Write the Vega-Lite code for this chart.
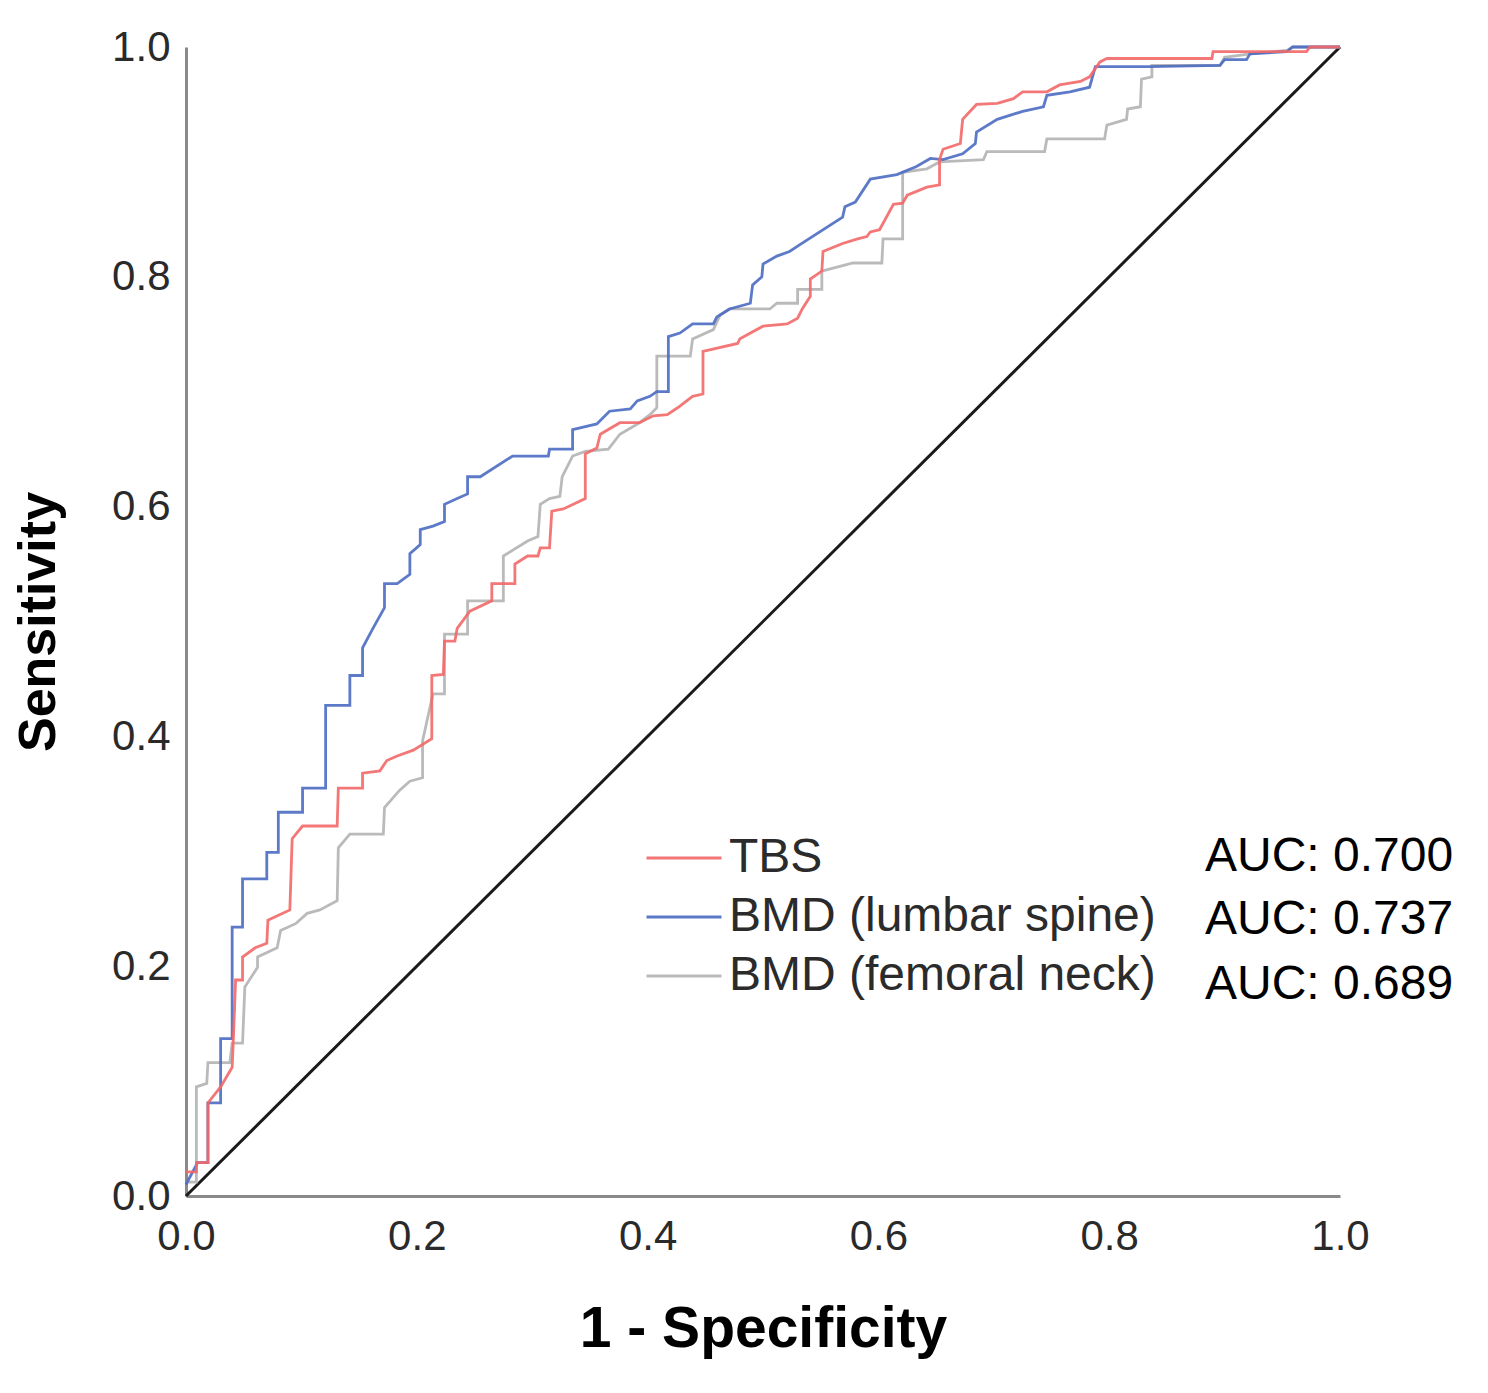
{
  "$schema": "https://vega.github.io/schema/vega-lite/v6.json",
  "width": 1154,
  "height": 1149,
  "autosize": {"type": "none"},
  "padding": {"left": 186, "top": 47, "right": 148, "bottom": 197},
  "background": "white",
  "config": {
    "view": {"stroke": null},
    "font": "Liberation Sans",
    "axis": {
      "grid": false,
      "ticks": false,
      "domainColor": "#8a8a8a",
      "domainWidth": 3,
      "labelFont": "Liberation Sans",
      "labelFontSize": 42,
      "labelColor": "#2a2a2a",
      "labelFlush": false,
      "labelOverlap": false,
      "labelBound": false,
      "titleFont": "Liberation Sans",
      "titleFontWeight": "bold",
      "titleColor": "#000000"
    }
  },
  "datasets": {
    "roc": [
      {"s":"BMD (femoral neck)","i":0,"x":0,"y":0.012},
      {"s":"BMD (femoral neck)","i":1,"x":0.009,"y":0.012},
      {"s":"BMD (femoral neck)","i":2,"x":0.009,"y":0.095},
      {"s":"BMD (femoral neck)","i":3,"x":0.018,"y":0.098},
      {"s":"BMD (femoral neck)","i":4,"x":0.019,"y":0.116},
      {"s":"BMD (femoral neck)","i":5,"x":0.038,"y":0.116},
      {"s":"BMD (femoral neck)","i":6,"x":0.040,"y":0.133},
      {"s":"BMD (femoral neck)","i":7,"x":0.049,"y":0.133},
      {"s":"BMD (femoral neck)","i":8,"x":0.051,"y":0.182},
      {"s":"BMD (femoral neck)","i":9,"x":0.062,"y":0.199},
      {"s":"BMD (femoral neck)","i":10,"x":0.062,"y":0.208},
      {"s":"BMD (femoral neck)","i":11,"x":0.079,"y":0.216},
      {"s":"BMD (femoral neck)","i":12,"x":0.082,"y":0.231},
      {"s":"BMD (femoral neck)","i":13,"x":0.095,"y":0.237},
      {"s":"BMD (femoral neck)","i":14,"x":0.105,"y":0.246},
      {"s":"BMD (femoral neck)","i":15,"x":0.116,"y":0.249},
      {"s":"BMD (femoral neck)","i":16,"x":0.131,"y":0.257},
      {"s":"BMD (femoral neck)","i":17,"x":0.132,"y":0.303},
      {"s":"BMD (femoral neck)","i":18,"x":0.142,"y":0.315},
      {"s":"BMD (femoral neck)","i":19,"x":0.171,"y":0.315},
      {"s":"BMD (femoral neck)","i":20,"x":0.172,"y":0.338},
      {"s":"BMD (femoral neck)","i":21,"x":0.185,"y":0.353},
      {"s":"BMD (femoral neck)","i":22,"x":0.194,"y":0.361},
      {"s":"BMD (femoral neck)","i":23,"x":0.205,"y":0.364},
      {"s":"BMD (femoral neck)","i":24,"x":0.205,"y":0.396},
      {"s":"BMD (femoral neck)","i":25,"x":0.214,"y":0.437},
      {"s":"BMD (femoral neck)","i":26,"x":0.224,"y":0.437},
      {"s":"BMD (femoral neck)","i":27,"x":0.224,"y":0.489},
      {"s":"BMD (femoral neck)","i":28,"x":0.244,"y":0.489},
      {"s":"BMD (femoral neck)","i":29,"x":0.244,"y":0.518},
      {"s":"BMD (femoral neck)","i":30,"x":0.275,"y":0.518},
      {"s":"BMD (femoral neck)","i":31,"x":0.275,"y":0.557},
      {"s":"BMD (femoral neck)","i":32,"x":0.296,"y":0.570},
      {"s":"BMD (femoral neck)","i":33,"x":0.305,"y":0.574},
      {"s":"BMD (femoral neck)","i":34,"x":0.307,"y":0.602},
      {"s":"BMD (femoral neck)","i":35,"x":0.315,"y":0.607},
      {"s":"BMD (femoral neck)","i":36,"x":0.324,"y":0.609},
      {"s":"BMD (femoral neck)","i":37,"x":0.326,"y":0.626},
      {"s":"BMD (femoral neck)","i":38,"x":0.335,"y":0.644},
      {"s":"BMD (femoral neck)","i":39,"x":0.346,"y":0.648},
      {"s":"BMD (femoral neck)","i":40,"x":0.366,"y":0.650},
      {"s":"BMD (femoral neck)","i":41,"x":0.376,"y":0.663},
      {"s":"BMD (femoral neck)","i":42,"x":0.393,"y":0.673},
      {"s":"BMD (femoral neck)","i":43,"x":0.402,"y":0.680},
      {"s":"BMD (femoral neck)","i":44,"x":0.408,"y":0.686},
      {"s":"BMD (femoral neck)","i":45,"x":0.408,"y":0.731},
      {"s":"BMD (femoral neck)","i":46,"x":0.437,"y":0.731},
      {"s":"BMD (femoral neck)","i":47,"x":0.439,"y":0.746},
      {"s":"BMD (femoral neck)","i":48,"x":0.457,"y":0.754},
      {"s":"BMD (femoral neck)","i":49,"x":0.463,"y":0.767},
      {"s":"BMD (femoral neck)","i":50,"x":0.471,"y":0.772},
      {"s":"BMD (femoral neck)","i":51,"x":0.506,"y":0.772},
      {"s":"BMD (femoral neck)","i":52,"x":0.512,"y":0.777},
      {"s":"BMD (femoral neck)","i":53,"x":0.530,"y":0.777},
      {"s":"BMD (femoral neck)","i":54,"x":0.530,"y":0.789},
      {"s":"BMD (femoral neck)","i":55,"x":0.551,"y":0.789},
      {"s":"BMD (femoral neck)","i":56,"x":0.551,"y":0.805},
      {"s":"BMD (femoral neck)","i":57,"x":0.578,"y":0.812},
      {"s":"BMD (femoral neck)","i":58,"x":0.603,"y":0.812},
      {"s":"BMD (femoral neck)","i":59,"x":0.604,"y":0.833},
      {"s":"BMD (femoral neck)","i":60,"x":0.621,"y":0.833},
      {"s":"BMD (femoral neck)","i":61,"x":0.621,"y":0.891},
      {"s":"BMD (femoral neck)","i":62,"x":0.642,"y":0.894},
      {"s":"BMD (femoral neck)","i":63,"x":0.653,"y":0.900},
      {"s":"BMD (femoral neck)","i":64,"x":0.691,"y":0.902},
      {"s":"BMD (femoral neck)","i":65,"x":0.694,"y":0.909},
      {"s":"BMD (femoral neck)","i":66,"x":0.744,"y":0.909},
      {"s":"BMD (femoral neck)","i":67,"x":0.746,"y":0.920},
      {"s":"BMD (femoral neck)","i":68,"x":0.796,"y":0.920},
      {"s":"BMD (femoral neck)","i":69,"x":0.798,"y":0.932},
      {"s":"BMD (femoral neck)","i":70,"x":0.815,"y":0.937},
      {"s":"BMD (femoral neck)","i":71,"x":0.816,"y":0.946},
      {"s":"BMD (femoral neck)","i":72,"x":0.827,"y":0.948},
      {"s":"BMD (femoral neck)","i":73,"x":0.828,"y":0.972},
      {"s":"BMD (femoral neck)","i":74,"x":0.837,"y":0.974},
      {"s":"BMD (femoral neck)","i":75,"x":0.837,"y":0.984},
      {"s":"BMD (femoral neck)","i":76,"x":0.896,"y":0.984},
      {"s":"BMD (femoral neck)","i":77,"x":0.900,"y":0.991},
      {"s":"BMD (femoral neck)","i":78,"x":0.922,"y":0.994},
      {"s":"BMD (femoral neck)","i":79,"x":0.954,"y":0.997},
      {"s":"BMD (femoral neck)","i":80,"x":0.959,"y":1.0},
      {"s":"BMD (femoral neck)","i":81,"x":1.0,"y":1.0},

      {"s":"BMD (lumbar spine)","i":0,"x":0,"y":0.010},
      {"s":"BMD (lumbar spine)","i":1,"x":0.010,"y":0.029},
      {"s":"BMD (lumbar spine)","i":2,"x":0.019,"y":0.029},
      {"s":"BMD (lumbar spine)","i":3,"x":0.019,"y":0.081},
      {"s":"BMD (lumbar spine)","i":4,"x":0.030,"y":0.081},
      {"s":"BMD (lumbar spine)","i":5,"x":0.030,"y":0.137},
      {"s":"BMD (lumbar spine)","i":6,"x":0.040,"y":0.137},
      {"s":"BMD (lumbar spine)","i":7,"x":0.040,"y":0.234},
      {"s":"BMD (lumbar spine)","i":8,"x":0.049,"y":0.234},
      {"s":"BMD (lumbar spine)","i":9,"x":0.049,"y":0.276},
      {"s":"BMD (lumbar spine)","i":10,"x":0.070,"y":0.276},
      {"s":"BMD (lumbar spine)","i":11,"x":0.070,"y":0.299},
      {"s":"BMD (lumbar spine)","i":12,"x":0.080,"y":0.299},
      {"s":"BMD (lumbar spine)","i":13,"x":0.080,"y":0.334},
      {"s":"BMD (lumbar spine)","i":14,"x":0.101,"y":0.334},
      {"s":"BMD (lumbar spine)","i":15,"x":0.101,"y":0.355},
      {"s":"BMD (lumbar spine)","i":16,"x":0.121,"y":0.355},
      {"s":"BMD (lumbar spine)","i":17,"x":0.121,"y":0.427},
      {"s":"BMD (lumbar spine)","i":18,"x":0.142,"y":0.427},
      {"s":"BMD (lumbar spine)","i":19,"x":0.142,"y":0.453},
      {"s":"BMD (lumbar spine)","i":20,"x":0.153,"y":0.453},
      {"s":"BMD (lumbar spine)","i":21,"x":0.153,"y":0.477},
      {"s":"BMD (lumbar spine)","i":22,"x":0.162,"y":0.494},
      {"s":"BMD (lumbar spine)","i":23,"x":0.172,"y":0.512},
      {"s":"BMD (lumbar spine)","i":24,"x":0.172,"y":0.533},
      {"s":"BMD (lumbar spine)","i":25,"x":0.183,"y":0.533},
      {"s":"BMD (lumbar spine)","i":26,"x":0.194,"y":0.541},
      {"s":"BMD (lumbar spine)","i":27,"x":0.194,"y":0.559},
      {"s":"BMD (lumbar spine)","i":28,"x":0.203,"y":0.567},
      {"s":"BMD (lumbar spine)","i":29,"x":0.203,"y":0.580},
      {"s":"BMD (lumbar spine)","i":30,"x":0.214,"y":0.583},
      {"s":"BMD (lumbar spine)","i":31,"x":0.224,"y":0.587},
      {"s":"BMD (lumbar spine)","i":32,"x":0.224,"y":0.602},
      {"s":"BMD (lumbar spine)","i":33,"x":0.235,"y":0.607},
      {"s":"BMD (lumbar spine)","i":34,"x":0.244,"y":0.611},
      {"s":"BMD (lumbar spine)","i":35,"x":0.244,"y":0.626},
      {"s":"BMD (lumbar spine)","i":36,"x":0.255,"y":0.626},
      {"s":"BMD (lumbar spine)","i":37,"x":0.283,"y":0.644},
      {"s":"BMD (lumbar spine)","i":38,"x":0.314,"y":0.644},
      {"s":"BMD (lumbar spine)","i":39,"x":0.315,"y":0.650},
      {"s":"BMD (lumbar spine)","i":40,"x":0.335,"y":0.650},
      {"s":"BMD (lumbar spine)","i":41,"x":0.335,"y":0.667},
      {"s":"BMD (lumbar spine)","i":42,"x":0.356,"y":0.672},
      {"s":"BMD (lumbar spine)","i":43,"x":0.367,"y":0.683},
      {"s":"BMD (lumbar spine)","i":44,"x":0.385,"y":0.685},
      {"s":"BMD (lumbar spine)","i":45,"x":0.391,"y":0.692},
      {"s":"BMD (lumbar spine)","i":46,"x":0.402,"y":0.696},
      {"s":"BMD (lumbar spine)","i":47,"x":0.408,"y":0.700},
      {"s":"BMD (lumbar spine)","i":48,"x":0.418,"y":0.700},
      {"s":"BMD (lumbar spine)","i":49,"x":0.418,"y":0.748},
      {"s":"BMD (lumbar spine)","i":50,"x":0.428,"y":0.751},
      {"s":"BMD (lumbar spine)","i":51,"x":0.439,"y":0.759},
      {"s":"BMD (lumbar spine)","i":52,"x":0.457,"y":0.759},
      {"s":"BMD (lumbar spine)","i":53,"x":0.460,"y":0.765},
      {"s":"BMD (lumbar spine)","i":54,"x":0.471,"y":0.772},
      {"s":"BMD (lumbar spine)","i":55,"x":0.489,"y":0.777},
      {"s":"BMD (lumbar spine)","i":56,"x":0.491,"y":0.793},
      {"s":"BMD (lumbar spine)","i":57,"x":0.499,"y":0.800},
      {"s":"BMD (lumbar spine)","i":58,"x":0.500,"y":0.811},
      {"s":"BMD (lumbar spine)","i":59,"x":0.512,"y":0.818},
      {"s":"BMD (lumbar spine)","i":60,"x":0.523,"y":0.822},
      {"s":"BMD (lumbar spine)","i":61,"x":0.532,"y":0.828},
      {"s":"BMD (lumbar spine)","i":62,"x":0.569,"y":0.852},
      {"s":"BMD (lumbar spine)","i":63,"x":0.571,"y":0.861},
      {"s":"BMD (lumbar spine)","i":64,"x":0.580,"y":0.865},
      {"s":"BMD (lumbar spine)","i":65,"x":0.593,"y":0.885},
      {"s":"BMD (lumbar spine)","i":66,"x":0.616,"y":0.889},
      {"s":"BMD (lumbar spine)","i":67,"x":0.633,"y":0.896},
      {"s":"BMD (lumbar spine)","i":68,"x":0.645,"y":0.903},
      {"s":"BMD (lumbar spine)","i":69,"x":0.656,"y":0.902},
      {"s":"BMD (lumbar spine)","i":70,"x":0.673,"y":0.907},
      {"s":"BMD (lumbar spine)","i":71,"x":0.684,"y":0.916},
      {"s":"BMD (lumbar spine)","i":72,"x":0.685,"y":0.926},
      {"s":"BMD (lumbar spine)","i":73,"x":0.703,"y":0.937},
      {"s":"BMD (lumbar spine)","i":74,"x":0.725,"y":0.944},
      {"s":"BMD (lumbar spine)","i":75,"x":0.743,"y":0.948},
      {"s":"BMD (lumbar spine)","i":76,"x":0.746,"y":0.958},
      {"s":"BMD (lumbar spine)","i":77,"x":0.766,"y":0.961},
      {"s":"BMD (lumbar spine)","i":78,"x":0.783,"y":0.965},
      {"s":"BMD (lumbar spine)","i":79,"x":0.788,"y":0.983},
      {"s":"BMD (lumbar spine)","i":80,"x":0.835,"y":0.983},
      {"s":"BMD (lumbar spine)","i":81,"x":0.896,"y":0.984},
      {"s":"BMD (lumbar spine)","i":82,"x":0.900,"y":0.989},
      {"s":"BMD (lumbar spine)","i":83,"x":0.919,"y":0.989},
      {"s":"BMD (lumbar spine)","i":84,"x":0.922,"y":0.994},
      {"s":"BMD (lumbar spine)","i":85,"x":0.954,"y":0.996},
      {"s":"BMD (lumbar spine)","i":86,"x":0.959,"y":1.0},
      {"s":"BMD (lumbar spine)","i":87,"x":1.0,"y":1.0},

      {"s":"TBS","i":0,"x":0,"y":0.021},
      {"s":"TBS","i":1,"x":0.009,"y":0.021},
      {"s":"TBS","i":2,"x":0.009,"y":0.029},
      {"s":"TBS","i":3,"x":0.019,"y":0.029},
      {"s":"TBS","i":4,"x":0.019,"y":0.081},
      {"s":"TBS","i":5,"x":0.030,"y":0.095},
      {"s":"TBS","i":6,"x":0.040,"y":0.112},
      {"s":"TBS","i":7,"x":0.041,"y":0.136},
      {"s":"TBS","i":8,"x":0.043,"y":0.188},
      {"s":"TBS","i":9,"x":0.049,"y":0.188},
      {"s":"TBS","i":10,"x":0.049,"y":0.208},
      {"s":"TBS","i":11,"x":0.060,"y":0.216},
      {"s":"TBS","i":12,"x":0.070,"y":0.220},
      {"s":"TBS","i":13,"x":0.071,"y":0.240},
      {"s":"TBS","i":14,"x":0.090,"y":0.249},
      {"s":"TBS","i":15,"x":0.092,"y":0.311},
      {"s":"TBS","i":16,"x":0.101,"y":0.322},
      {"s":"TBS","i":17,"x":0.131,"y":0.322},
      {"s":"TBS","i":18,"x":0.132,"y":0.355},
      {"s":"TBS","i":19,"x":0.153,"y":0.355},
      {"s":"TBS","i":20,"x":0.153,"y":0.368},
      {"s":"TBS","i":21,"x":0.168,"y":0.370},
      {"s":"TBS","i":22,"x":0.174,"y":0.379},
      {"s":"TBS","i":23,"x":0.183,"y":0.383},
      {"s":"TBS","i":24,"x":0.197,"y":0.388},
      {"s":"TBS","i":25,"x":0.213,"y":0.398},
      {"s":"TBS","i":26,"x":0.213,"y":0.453},
      {"s":"TBS","i":27,"x":0.223,"y":0.454},
      {"s":"TBS","i":28,"x":0.224,"y":0.483},
      {"s":"TBS","i":29,"x":0.233,"y":0.483},
      {"s":"TBS","i":30,"x":0.235,"y":0.494},
      {"s":"TBS","i":31,"x":0.246,"y":0.509},
      {"s":"TBS","i":32,"x":0.265,"y":0.518},
      {"s":"TBS","i":33,"x":0.265,"y":0.533},
      {"s":"TBS","i":34,"x":0.285,"y":0.533},
      {"s":"TBS","i":35,"x":0.285,"y":0.550},
      {"s":"TBS","i":36,"x":0.296,"y":0.557},
      {"s":"TBS","i":37,"x":0.305,"y":0.557},
      {"s":"TBS","i":38,"x":0.307,"y":0.564},
      {"s":"TBS","i":39,"x":0.315,"y":0.564},
      {"s":"TBS","i":40,"x":0.317,"y":0.596},
      {"s":"TBS","i":41,"x":0.327,"y":0.598},
      {"s":"TBS","i":42,"x":0.346,"y":0.607},
      {"s":"TBS","i":43,"x":0.346,"y":0.646},
      {"s":"TBS","i":44,"x":0.356,"y":0.651},
      {"s":"TBS","i":45,"x":0.359,"y":0.663},
      {"s":"TBS","i":46,"x":0.376,"y":0.673},
      {"s":"TBS","i":47,"x":0.393,"y":0.673},
      {"s":"TBS","i":48,"x":0.405,"y":0.679},
      {"s":"TBS","i":49,"x":0.417,"y":0.680},
      {"s":"TBS","i":50,"x":0.426,"y":0.686},
      {"s":"TBS","i":51,"x":0.439,"y":0.696},
      {"s":"TBS","i":52,"x":0.448,"y":0.698},
      {"s":"TBS","i":53,"x":0.448,"y":0.735},
      {"s":"TBS","i":54,"x":0.478,"y":0.742},
      {"s":"TBS","i":55,"x":0.480,"y":0.746},
      {"s":"TBS","i":56,"x":0.500,"y":0.757},
      {"s":"TBS","i":57,"x":0.521,"y":0.759},
      {"s":"TBS","i":58,"x":0.530,"y":0.764},
      {"s":"TBS","i":59,"x":0.534,"y":0.772},
      {"s":"TBS","i":60,"x":0.541,"y":0.783},
      {"s":"TBS","i":61,"x":0.541,"y":0.798},
      {"s":"TBS","i":62,"x":0.551,"y":0.805},
      {"s":"TBS","i":63,"x":0.552,"y":0.822},
      {"s":"TBS","i":64,"x":0.569,"y":0.829},
      {"s":"TBS","i":65,"x":0.582,"y":0.833},
      {"s":"TBS","i":66,"x":0.590,"y":0.835},
      {"s":"TBS","i":67,"x":0.593,"y":0.839},
      {"s":"TBS","i":68,"x":0.601,"y":0.841},
      {"s":"TBS","i":69,"x":0.613,"y":0.863},
      {"s":"TBS","i":70,"x":0.621,"y":0.864},
      {"s":"TBS","i":71,"x":0.625,"y":0.871},
      {"s":"TBS","i":72,"x":0.642,"y":0.878},
      {"s":"TBS","i":73,"x":0.653,"y":0.880},
      {"s":"TBS","i":74,"x":0.653,"y":0.902},
      {"s":"TBS","i":75,"x":0.656,"y":0.911},
      {"s":"TBS","i":76,"x":0.671,"y":0.916},
      {"s":"TBS","i":77,"x":0.673,"y":0.937},
      {"s":"TBS","i":78,"x":0.685,"y":0.950},
      {"s":"TBS","i":79,"x":0.703,"y":0.951},
      {"s":"TBS","i":80,"x":0.717,"y":0.955},
      {"s":"TBS","i":81,"x":0.725,"y":0.961},
      {"s":"TBS","i":82,"x":0.746,"y":0.961},
      {"s":"TBS","i":83,"x":0.757,"y":0.967},
      {"s":"TBS","i":84,"x":0.775,"y":0.970},
      {"s":"TBS","i":85,"x":0.783,"y":0.974},
      {"s":"TBS","i":86,"x":0.792,"y":0.987},
      {"s":"TBS","i":87,"x":0.798,"y":0.990},
      {"s":"TBS","i":88,"x":0.889,"y":0.990},
      {"s":"TBS","i":89,"x":0.890,"y":0.996},
      {"s":"TBS","i":90,"x":0.971,"y":0.996},
      {"s":"TBS","i":91,"x":0.974,"y":1.0},
      {"s":"TBS","i":92,"x":1.0,"y":1.0}
    ],
    "diag": [{"x": 0, "y": 0, "x2": 1, "y2": 1}],
    "auc": [
      {"label": "AUC: 0.700", "x": 0.883, "y": 0.295},
      {"label": "AUC: 0.737", "x": 0.883, "y": 0.240},
      {"label": "AUC: 0.689", "x": 0.883, "y": 0.184}
    ]
  },
  "layer": [
    {
      "data": {"name": "diag"},
      "mark": {"type": "rule", "color": "#1a1a1a", "strokeWidth": 3},
      "encoding": {
        "x": {"field": "x", "type": "quantitative", "scale": {"domain": [0, 1], "nice": false},
              "axis": {"title": "1 - Specificity", "values": [0, 0.2, 0.4, 0.6, 0.8, 1], "format": ".1f",
                       "labelPadding": 20, "titleFontSize": 57, "titlePadding": 44}},
        "y": {"field": "y", "type": "quantitative", "scale": {"domain": [0, 1], "nice": false},
              "axis": {"title": "Sensitivity", "values": [0, 0.2, 0.4, 0.6, 0.8, 1], "format": ".1f",
                       "labelPadding": 16, "titleFontSize": 52, "titlePadding": 46}},
        "x2": {"field": "x2"},
        "y2": {"field": "y2"}
      }
    },
    {
      "data": {"name": "roc"},
      "mark": {"type": "line", "strokeWidth": 2.8, "opacity": 0.9},
      "encoding": {
        "x": {"field": "x", "type": "quantitative"},
        "y": {"field": "y", "type": "quantitative"},
        "order": {"field": "i", "type": "quantitative"},
        "color": {
          "field": "s", "type": "nominal",
          "scale": {"domain": ["TBS", "BMD (lumbar spine)", "BMD (femoral neck)"],
                    "range": ["#f26868", "#4a6bc2", "#b3b3b3"]},
          "legend": {
            "title": null, "orient": "none", "legendX": 459, "legendY": 782,
            "padding": 0, "symbolType": "stroke", "symbolSize": 5625, "symbolStrokeWidth": 3,
            "labelFont": "Liberation Sans", "labelFontSize": 48, "labelColor": "#2b2b2b",
            "labelOffset": 6, "clipHeight": 58, "rowPadding": 1, "labelLimit": 800
          }
        }
      }
    },
    {
      "data": {"name": "auc"},
      "mark": {"type": "text", "align": "left", "baseline": "middle", "fontSize": 48, "font": "Liberation Sans", "color": "#000000"},
      "encoding": {
        "x": {"field": "x", "type": "quantitative"},
        "y": {"field": "y", "type": "quantitative"},
        "text": {"field": "label", "type": "nominal"}
      }
    }
  ]
}
